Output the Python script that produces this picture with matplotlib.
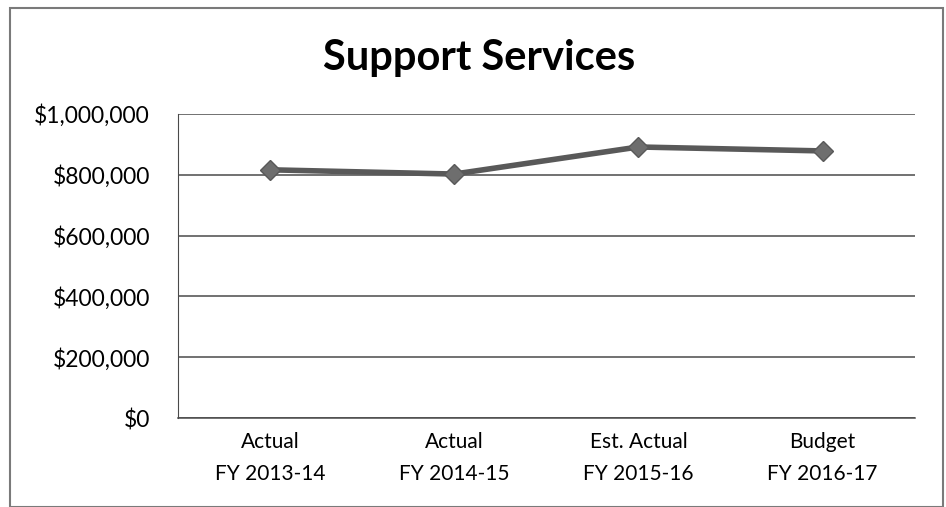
import matplotlib
matplotlib.use("Agg")
import matplotlib.pyplot as plt
from matplotlib.patches import Rectangle
from matplotlib.ticker import FuncFormatter

# data
categories = ["Actual\nFY 2013-14", "Actual\nFY 2014-15", "Est. Actual\nFY 2015-16", "Budget\nFY 2016-17"]
values = [816000, 802000, 891000, 878000]
y_ticks = [0, 200000, 400000, 600000, 800000, 1000000]

plt.rcParams['font.family'] = ['Lato', 'DejaVu Sans']

fig = plt.figure(figsize=(9.46, 5.07), dpi=100)
ax = fig.add_axes([0.188, 0.1755, 0.779, 0.6])

# outer chart border
fig.patches.append(Rectangle((0.011, 0.0), 0.986, 0.984, transform=fig.transFigure,
                             fill=False, edgecolor='#7a7a7a', linewidth=1.5))

x = list(range(len(categories)))
ax.plot(x, values, color='#595959', linewidth=4, marker='D', markersize=10,
        markerfacecolor='#6e6e6e', markeredgecolor='#595959', zorder=3)

ax.set_xlim(-0.5, len(categories) - 0.5)
ax.set_ylim(0, 1000000)
ax.set_yticks(y_ticks)
ax.yaxis.set_major_formatter(FuncFormatter(lambda v, p: "${:,.0f}".format(v)))
ax.set_xticks(x)
ax.set_xticklabels(categories, fontsize=15, linespacing=1.75)

ax.grid(axis='y', color='#4a4a4a', linewidth=1.1)
ax.set_axisbelow(True)
for s in ['top', 'right']:
    ax.spines[s].set_visible(False)
ax.spines['left'].set_color('#4a4a4a')
ax.spines['bottom'].set_color('#4a4a4a')
ax.spines['bottom'].set_linewidth(1.1)
ax.tick_params(axis='y', length=0, pad=20, labelsize=16.5)
ax.tick_params(axis='x', length=0, pad=10)

fig.text(0.507, 0.885, "Support Services", ha='center', va='center',
         fontsize=30, fontweight='bold')

fig.savefig("out.png", dpi=100)
